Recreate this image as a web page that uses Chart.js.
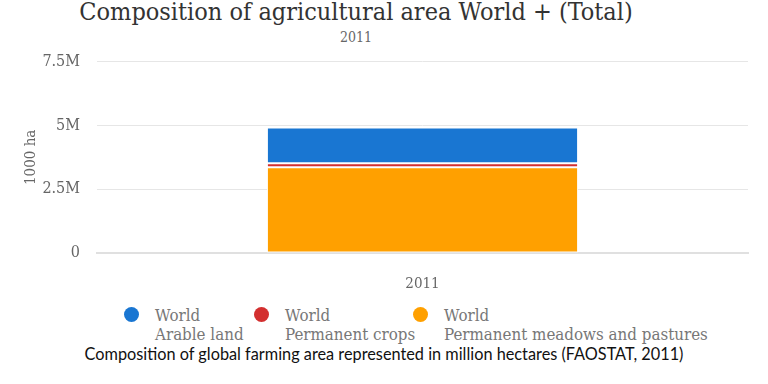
<!DOCTYPE html>
<html>
<head>
<meta charset="utf-8">
<script src="https://cdn.jsdelivr.net/npm/chart.js@4/dist/chart.umd.min.js"></script>
<style>
  html,body{margin:0;padding:0;background:#fff;}
  #wrap{position:relative;width:768px;height:384px;overflow:hidden;}
  .serif{font-family:'DejaVu Serif Condensed','DejaVu Serif',serif;font-stretch:condensed;}
  #title{position:absolute;left:0;width:712px;top:-3px;text-align:center;font-size:25px;color:#333;}
  #sub{position:absolute;left:0;width:712px;top:29px;text-align:center;font-size:14px;color:#666;}
  #cv{position:absolute;left:0;top:35px;}
  .leg{position:absolute;top:305px;font-size:16.8px;color:#777;line-height:19px;}
  .dot{position:absolute;width:15px;height:15px;border-radius:50%;}
  #cap{position:absolute;left:0;width:768px;top:344px;text-align:center;font-family:Lato,'Open Sans',sans-serif;font-size:16.3px;color:#111;}
</style>
</head>
<body>
<div id="wrap">
  <div id="title" class="serif">Composition of agricultural area World + (Total)</div>
  <div id="sub" class="serif">2011</div>
  <canvas id="cv" width="768" height="256"></canvas>
  <div id="legend"></div>
  <div id="cap">Composition of global farming area represented in million hectares (FAOSTAT, 2011)</div>
</div>
<script>
const categories = ['2011'];
const seriesNames = ['World\nArable land', 'World\nPermanent crops', 'World\nPermanent meadows and pastures'];
const seriesColors = ['#1976d2', '#d32f2f', '#ffa000'];
const arableLand = [1396000];
const permanentCrops = [162000];
const meadowsPastures = [3356000];
const yTicks = [0, 2500000, 5000000, 7500000];
const yTickLabels = ['0', '2.5M', '5M', '7.5M'];

const seriesValues = [arableLand, permanentCrops, meadowsPastures];
// stack bottom-up: meadows, crops, arable
const datasets = [2, 1, 0].map(i => ({
  label: seriesNames[i],
  data: seriesValues[i],
  backgroundColor: seriesColors[i],
  borderColor: '#ffffff',
  borderWidth: 1,
  borderSkipped: false,
  categoryPercentage: 1,
  barPercentage: 0.478
}));

const serif = "'DejaVu Serif Condensed','DejaVu Serif',serif";
new Chart(document.getElementById('cv'), {
  type: 'bar',
  data: { labels: categories, datasets },
  options: {
    responsive: false,
    animation: false,
    layout: { padding: { top: 11, right: 20, left: 0, bottom: 0 } },
    plugins: { legend: { display: false }, tooltip: { enabled: false } },
    scales: {
      x: {
        stacked: true,
        grid: { display: false },
        border: { display: true, color: '#e0e0e0', width: 2 },
        ticks: { color: '#666', font: { family: serif, size: 15 }, padding: 14 },
        afterFit: s => { s.height = 38; }
      },
      y: {
        stacked: true,
        min: 0, max: 7500000,
        afterBuildTicks: s => { s.ticks = yTicks.map(v => ({ value: v })); },
        grid: { color: '#e6e6e6', drawTicks: false },
        border: { display: false },
        ticks: {
          color: '#666', font: { family: serif, size: 16 }, padding: 17,
          callback: (v) => yTickLabels[yTicks.indexOf(v)]
        },
        title: { display: true, text: '1000 ha', color: '#666', font: { family: serif, size: 15 }, padding: { top: 22 } },
        afterFit: s => { s.width = 97; }
      }
    }
  }
});

// HTML legend (order: arable, crops, meadows)
const legX = [124, 254, 413];
const leg = document.getElementById('legend');
seriesNames.forEach((n, i) => {
  const d = document.createElement('div');
  d.className = 'dot';
  d.style.left = legX[i] + 'px';
  d.style.top = '307px';
  d.style.background = seriesColors[i];
  leg.appendChild(d);
  const t = document.createElement('div');
  t.className = 'leg serif';
  t.style.left = (legX[i] + 31) + 'px';
  t.style.top = '306px';
  t.innerHTML = n.split('\n').join('<br>');
  leg.appendChild(t);
});
</script>
</body>
</html>
